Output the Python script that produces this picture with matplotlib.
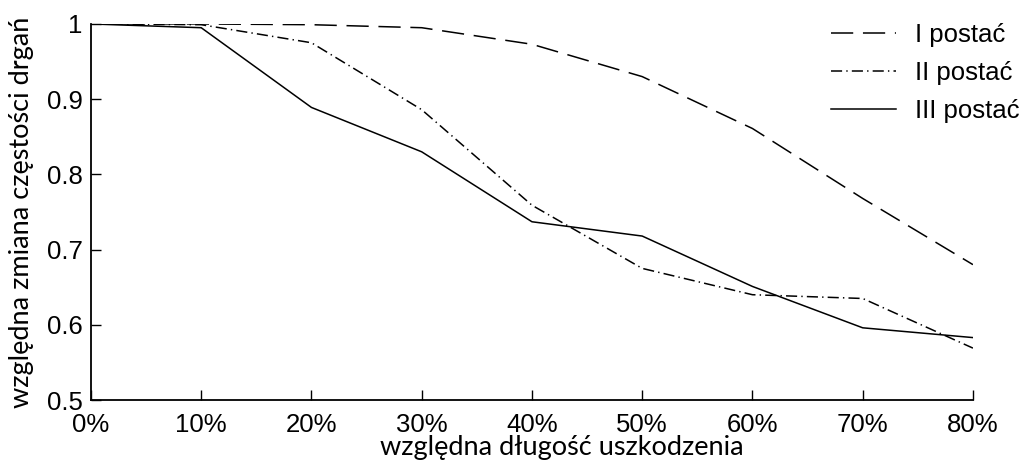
import matplotlib.pyplot as plt

plt.rcParams['lines.scale_dashes'] = False
plt.rcParams['font.family'] = ['Liberation Sans', 'DejaVu Sans']

x_labels = ["0%", "10%", "20%", "30%", "40%", "50%", "60%", "70%", "80%"]
x_vals = [0, 10, 20, 30, 40, 50, 60, 70, 80]

mode_1 = [1.0, 1.0, 0.999, 0.995, 0.973, 0.930, 0.861, 0.768, 0.680]
mode_2 = [1.0, 0.999, 0.975, 0.886, 0.759, 0.675, 0.640, 0.635, 0.569]
mode_3 = [1.0, 0.995, 0.889, 0.830, 0.737, 0.718, 0.651, 0.596, 0.583]

names = ["I postać", "II postać", "III postać"]

fig = plt.figure(figsize=(10.22, 4.66), dpi=100)
ax = fig.add_axes([0.089, 0.1416, 0.863, 0.807])

lw = 1.1
ax.plot(x_vals, mode_1, color="black", lw=lw, linestyle=(0, (16, 7)), label=names[0])
ax.plot(x_vals, mode_2, color="black", lw=lw, linestyle=(0, (8, 3, 1, 3)), label=names[1])
ax.plot(x_vals, mode_3, color="black", lw=lw, linestyle="-", label=names[2])

ax.set_xlim(0, 80)
ax.set_ylim(0.5, 1.0)
ax.set_xticks(x_vals)
ax.set_xticklabels(x_labels)
ax.set_yticks([0.5, 0.6, 0.7, 0.8, 0.9, 1.0])
ax.set_yticklabels(["0.5", "0.6", "0.7", "0.8", "0.9", "1"])

for s in ["top", "right"]:
    ax.spines[s].set_visible(False)
for s in ["left", "bottom"]:
    ax.spines[s].set_linewidth(1.3)

ax.tick_params(direction="in", length=7, width=1.0, labelsize=18.5)
ax.tick_params(axis="x", pad=9)
ax.tick_params(axis="y", pad=6)

ax.set_xlabel("względna długość uszkodzenia", family="Lato", fontsize=19.5)
ax.xaxis.set_label_coords(0.534, -0.093)
ax.set_ylabel("względna zmiana częstości drgań", family="Lato", fontsize=19.5, labelpad=9)

leg = ax.legend(loc="upper left", bbox_to_anchor=(0.813, 0.950), bbox_transform=fig.transFigure,
                frameon=False, prop={"size": 18.5}, borderpad=0, borderaxespad=0,
                handlelength=2.54, handletextpad=0.74, labelspacing=0.54)

fig.savefig("out.png", dpi=100)
